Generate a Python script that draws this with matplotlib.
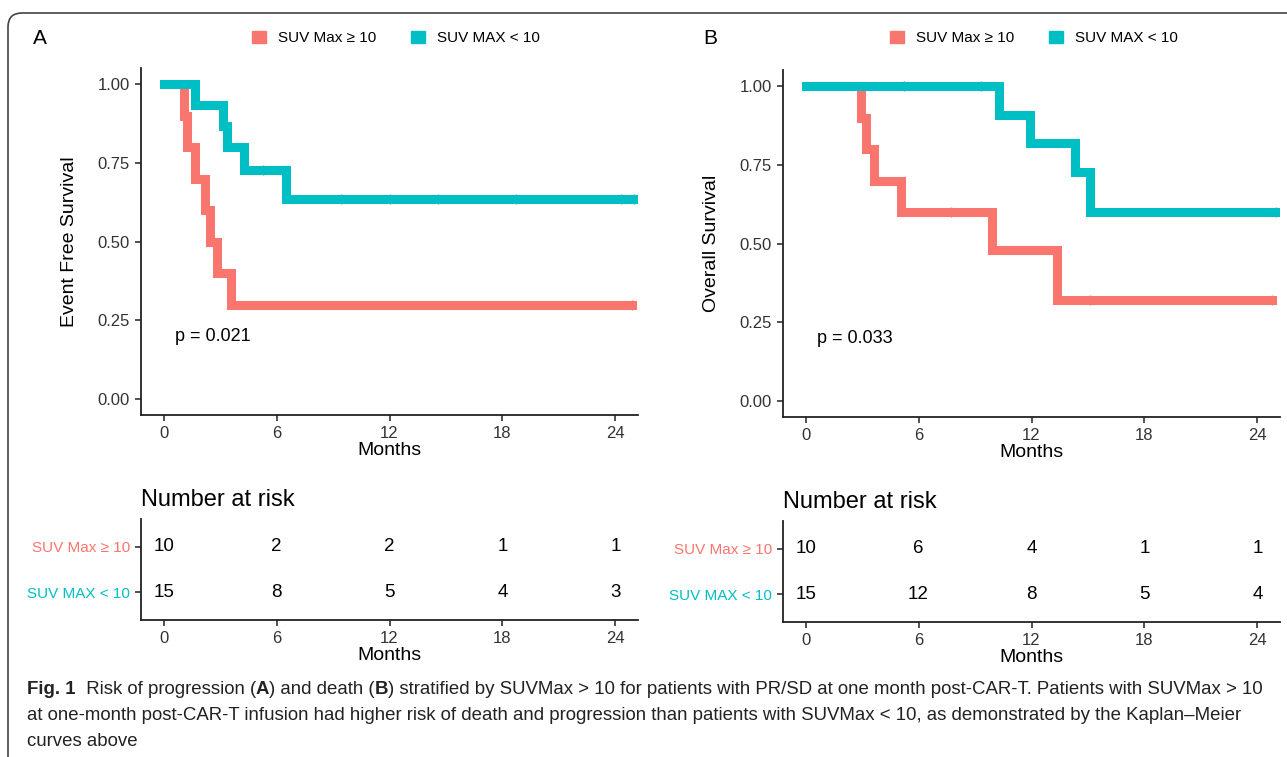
import matplotlib.pyplot as plt
from matplotlib.patches import Patch, FancyBboxPatch
from matplotlib.transforms import IdentityTransform

plt.rcParams['font.family'] = ['Liberation Sans', 'DejaVu Sans']

W, H = 1287, 757

# --- data ---
groups = ["SUV Max \u2265 10", "SUV MAX < 10"]
colors = ["#F8766D", "#00BFC4"]

# panel A: event free survival (months, survival)
efs_hi_t = [0, 1.1, 1.25, 1.65, 2.2, 2.45, 2.85, 3.6, 24.9]
efs_hi_s = [1.0, 0.9, 0.8, 0.7, 0.6, 0.5, 0.4, 0.3, 0.3]
efs_lo_t = [0, 1.65, 3.15, 3.35, 4.25, 6.5, 25.2]
efs_lo_s = [1.0, 0.933, 0.867, 0.8, 0.727, 0.636, 0.636]
efs_hi_cens = [24.9]
efs_lo_cens = [5.3, 9.4, 12.0, 14.6, 18.7, 24.3, 25.0]

# panel B: overall survival
os_hi_t = [0, 2.95, 3.2, 3.65, 5.05, 9.9, 13.35, 24.8]
os_hi_s = [1.0, 0.9, 0.8, 0.7, 0.6, 0.48, 0.32, 0.32]
os_lo_t = [0, 10.3, 11.9, 14.3, 15.1, 25.2]
os_lo_s = [1.0, 0.909, 0.818, 0.727, 0.6, 0.6]
os_hi_cens = [7.7, 15.1, 24.8]
os_lo_cens = [5.25, 9.3, 25.0]

risk_times = [0, 6, 12, 18, 24]
efs_risk_hi = [10, 2, 2, 1, 1]
efs_risk_lo = [15, 8, 5, 4, 3]
os_risk_hi = [10, 6, 4, 1, 1]
os_risk_lo = [15, 12, 8, 5, 4]

pvals = ["p = 0.021", "p = 0.033"]
ylabels = ["Event Free Survival", "Overall Survival"]


def rect(left, right, top, bottom):
    return [left / W, 1 - bottom / H, (right - left) / W, (bottom - top) / H]


def style_axis(ax):
    for s in ['top', 'right']:
        ax.spines[s].set_visible(False)
    for s in ['left', 'bottom']:
        ax.spines[s].set_linewidth(1.3)
        ax.spines[s].set_color('#222222')
    ax.tick_params(direction='out', length=4.5, width=1.1, color='#222222',
                   labelsize=12, labelcolor='#333333')
    ax.set_xlim(-1.2, 25.2)
    ax.set_xticks(risk_times)


def km_panel(ax, curves, ylabel, ptext):
    for (t, s, cens), c in zip(curves, colors):
        ax.step(t, s, where='post', color=c, lw=6.5, solid_joinstyle='miter')
        # censor marks sit on the step level
        cy = [s[max(i for i, tt in enumerate(t) if tt <= x)] for x in cens]
        ax.plot(cens, cy, ls='none', marker='|', ms=7, mew=1.0, color=c)
    style_axis(ax)
    ax.set_ylim(-0.05, 1.05)
    ax.set_yticks([0, 0.25, 0.5, 0.75, 1.0])
    ax.set_yticklabels(["0.00", "0.25", "0.50", "0.75", "1.00"])
    ax.set_ylabel(ylabel, fontsize=14, labelpad=14)
    ax.set_xlabel("Months", fontsize=14, labelpad=1)
    ax.text(0.6, 0.197, ptext, fontsize=13, ha='left', va='center')


def risk_panel(ax, hi, lo):
    for y, vals in zip([2, 1], [hi, lo]):
        for x, v in zip(risk_times, vals):
            ax.text(x, y, str(v), ha='center', va='center', fontsize=13.5)
    style_axis(ax)
    ax.set_ylim(0.4, 2.6)
    ax.set_yticks([2, 1])
    ax.set_yticklabels(groups, fontsize=11)
    for lab, c in zip(ax.get_yticklabels(), colors):
        lab.set_color(c)
    ax.set_xlabel("Months", fontsize=14, labelpad=1)
    ax.set_title("Number at risk", loc='left', fontsize=17, pad=9)


fig = plt.figure(figsize=(W / 100, H / 100), dpi=100)

axA = fig.add_axes(rect(141, 638, 68.25, 414.75))
km_panel(axA, [(efs_hi_t, efs_hi_s, efs_hi_cens), (efs_lo_t, efs_lo_s, efs_lo_cens)],
         ylabels[0], pvals[0])
axB = fig.add_axes(rect(783, 1280, 70.25, 416.75))
km_panel(axB, [(os_hi_t, os_hi_s, os_hi_cens), (os_lo_t, os_lo_s, os_lo_cens)],
         ylabels[1], pvals[1])

rA = fig.add_axes(rect(141, 638, 519, 620))
risk_panel(rA, efs_risk_hi, efs_risk_lo)
rB = fig.add_axes(rect(783, 1280, 521, 622))
risk_panel(rB, os_risk_hi, os_risk_lo)

# panel letters and legends
for lx, letter, cx in [(33, "A", 396), (703, "B", 1034)]:
    fig.text(lx / W, 1 - 38 / H, letter, fontsize=15, ha='left', va='center')
    fig.legend(handles=[Patch(color=c) for c in colors], labels=groups,
               loc='center', bbox_to_anchor=(cx / W, 1 - 38 / H), ncol=2,
               frameon=False, fontsize=11, handlelength=0.9, handleheight=0.9,
               handletextpad=0.8, columnspacing=2.3)

# rounded frame around the figure
frame = FancyBboxPatch((8, -60), 1400, H - 13 + 60,
                       boxstyle="round,pad=0,rounding_size=14",
                       transform=IdentityTransform(), fill=False,
                       ec='#444444', lw=1.2)
fig.add_artist(frame)

# caption (mixed bold / regular pieces chained together)
cap_font = ['Liberation Sans Narrow', 'Liberation Sans', 'DejaVu Sans']
cap_size = 13.4
lines = [
    [("Fig. 1", 'bold'), ("  Risk of progression (", 'normal'), ("A", 'bold'),
     (") and death (", 'normal'), ("B", 'bold'),
     (") stratified by SUVMax > 10 for patients with PR/SD at one month post-CAR-T. "
      "Patients with SUVMax > 10", 'normal')],
    [("at one-month post-CAR-T infusion had higher risk of death and progression than "
      "patients with SUVMax < 10, as demonstrated by the Kaplan\u2013Meier", 'normal')],
    [("curves above", 'normal')],
]
baselines = [694, 720, 746]
for parts, yb in zip(lines, baselines):
    prev = None
    for txt, wt in parts:
        if prev is None:
            prev = fig.text(27 / W, 1 - yb / H, txt, fontsize=cap_size, weight=wt,
                            family=cap_font, ha='left', va='baseline', color='#222222')
        else:
            prev = fig.add_artist(plt.Annotation(
                txt, xy=(1, 0), xycoords=prev, ha='left', va='bottom',
                fontsize=cap_size, weight=wt, family=cap_font, color='#222222'))

fig.savefig("out.png", dpi=100)
